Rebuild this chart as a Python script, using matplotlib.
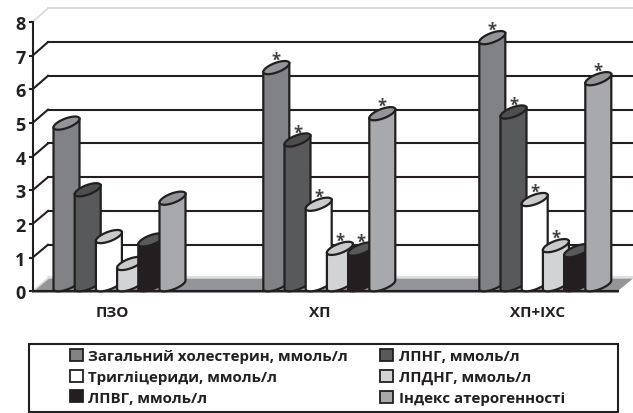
#!/usr/bin/env python3
# -*- coding: utf-8 -*-
import numpy as np
import matplotlib
matplotlib.use("Agg")
import matplotlib.pyplot as plt
from matplotlib.patches import Patch, Rectangle

plt.rcParams["font.family"] = ["Open Sans", "DejaVu Sans"]

groups = ["ПЗО", "ХП", "ХП+ІХС"]
series = [
    "Загальний холестерин, ммоль/л",
    "ЛПНГ, ммоль/л",
    "Тригліцериди, ммоль/л",
    "ЛПДНГ, ммоль/л",
    "ЛПВГ, ммоль/л",
    "Індекс атерогенності",
]
values = [
    [4.80, 2.82, 1.43, 0.63, 1.33, 2.57],
    [6.45, 4.30, 2.39, 1.08, 1.06, 5.08],
    [7.34, 5.13, 2.53, 1.16, 1.01, 6.12],
]
# significance stars, bar by bar
starred = [
    [False, False, False, False, False, False],
    [True, True, True, True, True, True],
    [True, True, True, True, False, True],
]

body_colors = ["#808285", "#58595b", "#ffffff", "#d1d3d4", "#231f20", "#a7a9ac"]
top_colors = ["#939598", "#4d4e50", "#c8cacc", "#c8cacc", "#58595b", "#939598"]
ink = "#231f20"

W, H = 633, 414
PX_ZERO = 292.3   # pixel row of value 0 on the front axis
PX_UNIT = 33.66   # pixels per value unit

group_left = [53.5, 263.3, 479.3]
group_label_x = [112, 320, 538]
BAR_STEP = 21.2
BAR_W = 26
SHEAR = 0.33
MINOR = 5.0
DEPTH = 6.6  # base ellipse centre above the axis, px


def px(row):
    # pixel row -> value coordinate
    return (PX_ZERO - row) / PX_UNIT


fig = plt.figure(figsize=(W / 100, H / 100), dpi=100)
ax = fig.add_axes([0, 0, 1, 1])
ax.set_xlim(0, W)
ax.set_ylim(px(H), px(0))
ax.patch.set_visible(False)

# back wall and floor
BACK_DX, BACK_0, BACK_UNIT = 15.5, 279.5, 33.78


def back_y(v):
    return px(BACK_0 - BACK_UNIT * v)


x0, x1 = 32.5, 617.5
ax.fill([x0, x0 + BACK_DX, x1 + BACK_DX, x1], [0, back_y(0), back_y(0), 0],
        color="#939598", lw=0, zorder=1)
ax.plot([x0 + BACK_DX, x1 + BACK_DX], [back_y(0) + 0.05] * 2, color="#d8d9da", lw=1.2, zorder=1)
ax.plot([x0 + BACK_DX, x1 + BACK_DX], [back_y(8)] * 2, color="#d8d9da", lw=1.4, zorder=1)
ax.plot([x0, x0 + BACK_DX], [8, back_y(8)], color="#d8d9da", lw=1.2, zorder=1)
ax.plot([x0, x0 + BACK_DX], [0, back_y(0)], color="#d8d9da", lw=1.2, zorder=1)
ax.plot([x0, x1], [-0.03, -0.03], color="#808285", lw=1.2, zorder=1)

for v in range(1, 8):
    ax.plot([x0 + BACK_DX, x1 + BACK_DX], [back_y(v)] * 2, color=ink, lw=1.5, zorder=2)
    ax.plot([x0, x0 + BACK_DX], [v, back_y(v)], color=ink, lw=1.5, zorder=2)

# cylinders
t = np.linspace(0, 2 * np.pi, 121)
lower = np.linspace(np.pi, 2 * np.pi, 61)
z = 3
for g, left in enumerate(group_left):
    for s, val in enumerate(values[g]):
        cx = left + s * BAR_STEP + BAR_W / 2
        half = BAR_W / 2
        base = DEPTH / PX_UNIT
        top = val + base
        # body: down the left edge, round the base, up the right edge
        bx = cx + half * np.cos(lower)
        by = base + (SHEAR * half * np.cos(lower) + MINOR * np.sin(lower)) / PX_UNIT
        xs = np.r_[cx - half, bx, cx + half]
        ys = np.r_[top - SHEAR * half / PX_UNIT, by, top + SHEAR * half / PX_UNIT]
        ax.fill(xs, ys, facecolor=body_colors[s], edgecolor=ink, lw=1.6, zorder=z)
        ex = cx + half * np.cos(t)
        ey = top + (SHEAR * half * np.cos(t) + MINOR * np.sin(t)) / PX_UNIT
        ax.fill(ex, ey, facecolor=top_colors[s], edgecolor=ink, lw=1.6, zorder=z + 1)
        z += 2
        if starred[g][s]:
            ax.text(cx, top + 7.5 / PX_UNIT, "*", ha="center", va="center",
                    fontsize=12, fontweight="bold", color="#414042", zorder=100)

# axes
for name in ["top", "right"]:
    ax.spines[name].set_visible(False)
ax.spines["left"].set_position(("data", x0))
ax.spines["left"].set_bounds(0, 8)
ax.spines["bottom"].set_position(("data", 0))
ax.spines["bottom"].set_bounds(x0, x1)
for name in ["left", "bottom"]:
    ax.spines[name].set_linewidth(1.5)
    ax.spines[name].set_color(ink)
    ax.spines[name].set_zorder(2.5)
ax.set_yticks(range(9))
ax.set_yticklabels([str(v) for v in range(9)], fontsize=13, fontweight="bold", color=ink)
ax.tick_params(axis="y", length=3, width=1.5, color=ink, pad=2)
ax.set_xticks(group_label_x)
ax.set_xticklabels(groups, fontsize=11, fontweight="bold", color=ink)
ax.tick_params(axis="x", length=0, pad=10)

# legend: matplotlib fills column by column, the picture reads row by row
ax.add_patch(Rectangle((28.5, px(413)), 589, px(344.5) - px(413), facecolor="white",
                       edgecolor=ink, lw=1.5, zorder=200))
order = [0, 2, 4, 1, 3, 5]
handles = [Patch(facecolor=body_colors[i], edgecolor=ink, lw=1.3) for i in order]
labels = [series[i] for i in order]
leg = ax.legend(
    handles, labels, ncol=2, frameon=False, loc="upper left",
    bbox_to_anchor=(67 / W, 1 - 347 / H), prop={"size": 10.9, "weight": "bold"},
    labelcolor=ink, handlelength=0.85, handleheight=0.85, handletextpad=0.35,
    columnspacing=2.15, labelspacing=0.42, borderpad=0.2, borderaxespad=0,
)
leg.set_zorder(201)

fig.savefig("out.png", dpi=100)
